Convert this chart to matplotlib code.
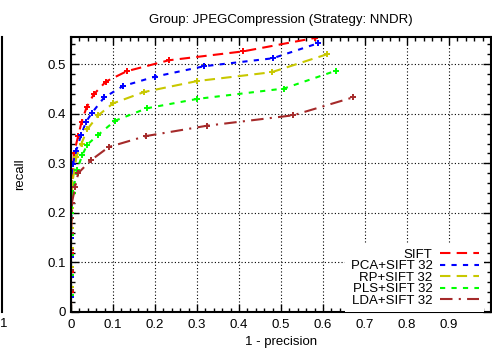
import matplotlib
matplotlib.use("Agg")
import matplotlib.pyplot as plt
from matplotlib.lines import Line2D
from matplotlib.ticker import MultipleLocator

plt.rcParams['font.family'] = ['Liberation Sans', 'DejaVu Sans']

title = "Group: JPEGCompression (Strategy: NNDR)"
labels = ["SIFT", "PCA+SIFT 32", "RP+SIFT 32", "PLS+SIFT 32", "LDA+SIFT 32"]

sift_x = [0, 0, 0, 0, 0, 0.001, 0.002, 0.004, 0.007, 0.017, 0.025, 0.037, 0.054, 0.083, 0.133, 0.233, 0.41, 0.58]
sift_y = [0, 0.04, 0.08, 0.12, 0.16, 0.20, 0.24, 0.28, 0.32, 0.355, 0.383, 0.413, 0.439, 0.465, 0.486, 0.508, 0.526, 0.553]

pca_x = [0, 0, 0, 0, 0, 0.001, 0.002, 0.005, 0.012, 0.024, 0.036, 0.05, 0.079, 0.124, 0.2, 0.317, 0.48, 0.587]
pca_y = [0, 0.03, 0.07, 0.11, 0.15, 0.19, 0.24, 0.298, 0.325, 0.357, 0.384, 0.402, 0.433, 0.456, 0.475, 0.496, 0.512, 0.542]

rp_x = [0, 0, 0, 0, 0, 0.001, 0.003, 0.013, 0.025, 0.039, 0.065, 0.1, 0.174, 0.3, 0.478, 0.609]
rp_y = [0, 0.05, 0.09, 0.13, 0.17, 0.21, 0.26, 0.313, 0.34, 0.369, 0.397, 0.421, 0.444, 0.466, 0.484, 0.52]

pls_x = [0, 0, 0, 0, 0, 0.001, 0.004, 0.014, 0.027, 0.039, 0.064, 0.105, 0.18, 0.3, 0.507, 0.631]
pls_y = [0, 0.035, 0.075, 0.115, 0.155, 0.20, 0.24, 0.286, 0.317, 0.338, 0.357, 0.386, 0.411, 0.43, 0.451, 0.487]

lda_x = [0, 0, 0, 0, 0, 0.001, 0.002, 0.01, 0.017, 0.047, 0.09, 0.178, 0.324, 0.529, 0.671]
lda_y = [0, 0.045, 0.085, 0.125, 0.16, 0.19, 0.22, 0.252, 0.28, 0.306, 0.333, 0.355, 0.376, 0.397, 0.433]

xticks = [0, 0.1, 0.2, 0.3, 0.4, 0.5, 0.6, 0.7, 0.8, 0.9, 1.0]
xticklabels = ["0", "0.1", "0.2", "0.3", "0.4", "0.5", "0.6", "0.7", "0.8", "0.9", ""]
yticks = [0, 0.1, 0.2, 0.3, 0.4, 0.5]
yticklabels = ["0", "0.1", "0.2", "0.3", "0.4", "0.5"]

colors = ["#ff0000", "#0000ff", "#c8c800", "#00ff00", "#a52a2a"]
styles = [(0, (5, 3)), (0, (2.5, 3)), (0, (5, 3)), (0, (2.5, 3)), (0, (6, 3, 1, 3))]

W, H = 492, 352
fig = plt.figure(figsize=(W / 100, H / 100), dpi=100)
ax = fig.add_axes([71 / W, 1 - 312 / H, (491 - 71) / W, (312 - 37) / H])

series = [(sift_x, sift_y), (pca_x, pca_y), (rp_x, rp_y), (pls_x, pls_y), (lda_x, lda_y)]
for (xs, ys), c, ls in zip(series, colors, styles):
    ax.plot(xs, ys, color=c, linestyle=ls, lw=1.5, marker='+', ms=4, mew=1.4, clip_on=True)

ax.set_xlim(0, 1.0)
ax.set_ylim(0, 0.555)
ax.set_xticks(xticks)
ax.set_xticklabels(xticklabels)
ax.set_yticks(yticks)
ax.set_yticklabels(yticklabels)
ax.xaxis.set_minor_locator(MultipleLocator(0.02))
ax.yaxis.set_minor_locator(MultipleLocator(0.02))
ax.tick_params(which='both', direction='in', top=True, right=True, labelsize=9.5, colors='black')
ax.tick_params(which='major', length=6, width=1)
ax.tick_params(which='minor', length=3, width=1)
ax.tick_params(axis='x', pad=5)
for s in ax.spines.values():
    s.set_linewidth(1.5)
ax.grid(True, which='major', color='black', linestyle=(0, (1, 2)), lw=0.8)
ax.set_axisbelow(True)

ax.set_title(title, fontsize=9.5, pad=10)
ax.set_xlabel("1 - precision", fontsize=9.5, labelpad=4)
ax.set_ylabel("recall", fontsize=9.5)
ax.yaxis.set_label_coords((26 - 71) / 420, 0.5)

handles = [Line2D([], [], color=c, linestyle=ls, lw=1.5) for c, ls in zip(colors, styles)]
leg = ax.legend(handles, labels, loc='lower right', bbox_to_anchor=(484 / W, 1 - 312 / H),
                bbox_transform=fig.transFigure, markerfirst=False, fontsize=9.5,
                frameon=True, fancybox=False, borderpad=0.4, handlelength=2.9,
                handletextpad=0.6, labelspacing=-0.06, borderaxespad=0)
leg.get_frame().set_facecolor('white')
leg.get_frame().set_edgecolor('none')
leg.get_frame().set_alpha(1)

fig.add_artist(Line2D([1.5 / W, 1.5 / W], [1 - 312 / H, 1 - 37 / H], transform=fig.transFigure, color='black', lw=1.5))
fig.text(4 / W, 1 - 324 / H, "1", fontsize=9.5, ha='center', va='center')

fig.savefig("out.png", dpi=100)
